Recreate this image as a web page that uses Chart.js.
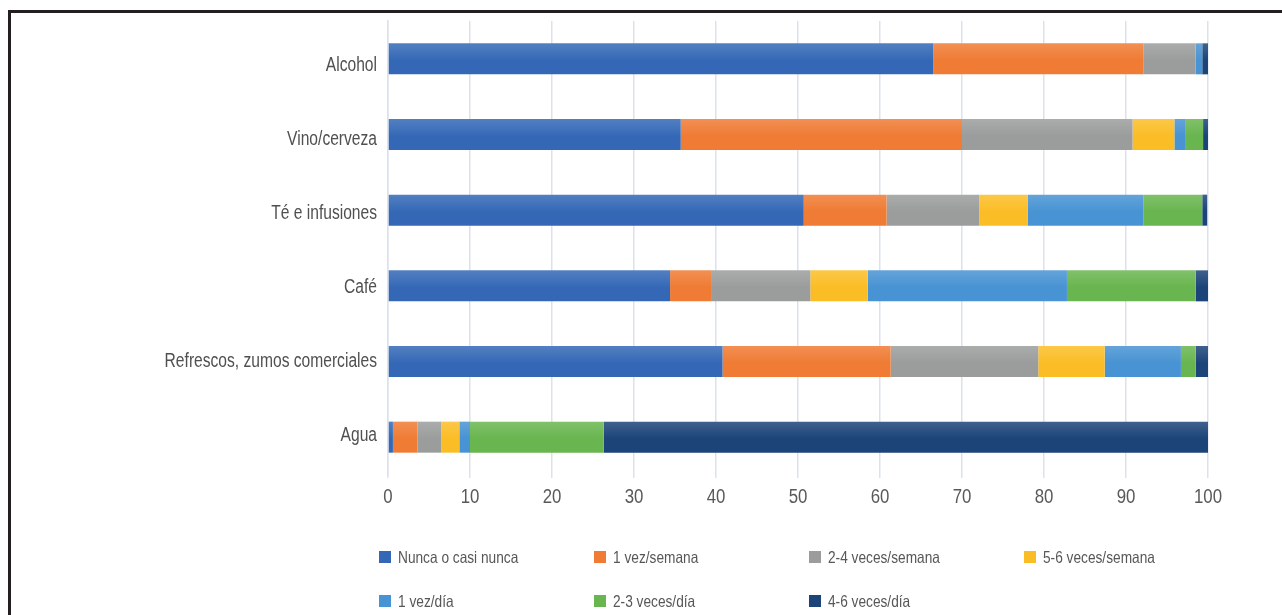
<!DOCTYPE html>
<html lang="es">
<head>
<meta charset="utf-8">
<title>Frecuencia de consumo de bebidas</title>
<script src="https://cdn.jsdelivr.net/npm/chart.js@4.4.1/dist/chart.umd.min.js"></script>
<style>
    html, body {
        margin: 0;
        padding: 0;
        background: #ffffff;
        width: 1282px;
        height: 615px;
        overflow: hidden;
        position: relative;
    }
    /* marco negro (solo arriba e izquierda, como en la figura) */
    .frame {
        position: absolute;
        left: 8px;
        top: 10px;
        width: 1300px;
        height: 640px;
        border-top: 3px solid #231f20;
        border-left: 3px solid #231f20;
        pointer-events: none;
    }
    #chart {
        position: absolute;
        left: 0;
        top: 0;
    }
    .legend-item {
        position: absolute;
        height: 18px;
        display: flex;
        align-items: center;
    }
    .legend-box {
        width: 12px;
        height: 12px;
        margin-right: 7px;
        flex: none;
    }
    .legend-text {
        font-family: "Liberation Sans", sans-serif;
        font-size: 16.5px;
        color: #575757;
        white-space: nowrap;
        transform: scaleX(0.83);
        transform-origin: left center;
    }
</style>
</head>
<body>
<canvas id="chart" width="1282" height="615"></canvas>
<div id="legend"></div>
<div class="frame"></div>

<script>
/* ==========================================================================
   Datos (porcentaje de personas por frecuencia de consumo)
   ========================================================================== */

const categories = [
    'Alcohol',
    'Vino/cerveza',
    'Té e infusiones',
    'Café',
    'Refrescos, zumos comerciales',
    'Agua'
];

const seriesNames = [
    'Nunca o casi nunca',
    '1 vez/semana',
    '2-4 veces/semana',
    '5-6 veces/semana',
    '1 vez/día',
    '2-3 veces/día',
    '4-6 veces/día'
];

const nuncaValues    = [66.5, 35.7, 50.7, 34.4, 40.8, 0.6];
const semana1Values  = [25.6, 34.3, 10.1, 5.1, 20.5, 3.0];
const semana24Values = [6.4, 20.8, 11.3, 12.0, 18.0, 2.9];
const semana56Values = [0, 5.1, 5.9, 7.0, 8.1, 2.2];
const dia1Values     = [0.8, 1.3, 14.1, 24.3, 9.3, 1.3];
const dia23Values    = [0, 2.2, 7.2, 15.7, 1.8, 16.3];
const dia46Values    = [0.7, 0.6, 0.6, 1.5, 1.7, 73.8];

const xTickValues = [0, 10, 20, 30, 40, 50, 60, 70, 80, 90, 100];

const seriesColors = ['#3468b6', '#ef7b34', '#9b9d9d', '#fbbd26', '#4893d3', '#69b54f', '#1c4479'];

/* ==========================================================================
   Utilidades de color
   ========================================================================== */

/**
 * Mezcla un color hex con blanco
 */
function lighten(hex, amount) {
    const n = parseInt(hex.slice(1), 16);
    const r = (n >> 16) & 255, g = (n >> 8) & 255, b = n & 255;
    const mix = c => Math.round(c + (255 - c) * amount);
    return `rgb(${mix(r)}, ${mix(g)}, ${mix(b)})`;
}

/**
 * Degradado vertical suave para cada barra (más claro arriba)
 */
function barGradient(color) {
    return function(context) {
        const chart = context.chart;
        if (!chart.chartArea || context.type !== 'data') return color;
        const y = chart.scales.y.getPixelForValue(context.dataIndex);
        const g = chart.ctx.createLinearGradient(0, y - 16, 0, y + 16);
        g.addColorStop(0, lighten(color, 0.16));
        g.addColorStop(0.55, color);
        g.addColorStop(1, color);
        return g;
    };
}

/* ==========================================================================
   Plugin: etiquetas de los ejes en letra estrecha (escala horizontal)
   ========================================================================== */

const condensedLabels = {
    id: 'condensedLabels',
    afterDraw(chart) {
        const xs = chart.scales.x;
        const ys = chart.scales.y;
        const ctx = chart.ctx;
        ctx.save();

        // eje X: números estrechos
        ctx.fillStyle = '#595959';
        ctx.font = '20.5px "Liberation Sans", sans-serif';
        ctx.textAlign = 'center';
        ctx.textBaseline = 'middle';
        xTickValues.forEach(v => {
            ctx.save();
            ctx.translate(xs.getPixelForValue(v), xs.top + 22);
            ctx.scale(0.82, 1);
            ctx.fillText(String(v), 0, 0);
            ctx.restore();
        });

        // eje Y: categorías alineadas a la derecha
        ctx.fillStyle = '#505050';
        ctx.font = '20px "Liberation Sans", sans-serif';
        ctx.textAlign = 'right';
        categories.forEach((name, i) => {
            ctx.save();
            // en la figura las etiquetas van algo más juntas que las barras
            ctx.translate(ys.right - 11, ys.getPixelForValue(i) + 7 - 1.8 * i);
            ctx.scale(0.78, 1);
            ctx.fillText(name, 0, 0);
            ctx.restore();
        });

        ctx.restore();
    }
};

/* ==========================================================================
   Gráfico
   ========================================================================== */

function buildDatasets() {
    const values = [nuncaValues, semana1Values, semana24Values, semana56Values, dia1Values, dia23Values, dia46Values];
    return values.map((data, i) => ({
        label: seriesNames[i],
        data: data,
        backgroundColor: barGradient(seriesColors[i]),
        borderWidth: 0,
        categoryPercentage: 0.82,
        barPercentage: 0.5
    }));
}

function createChart() {
    const ctx = document.getElementById('chart');
    return new Chart(ctx.getContext('2d'), {
        type: 'bar',
        data: {
            labels: categories,
            datasets: buildDatasets()
        },
        options: {
            indexAxis: 'y',
            responsive: false,
            animation: false,
            layout: {
                padding: { left: 0, top: 21, right: 74, bottom: 100 }
            },
            plugins: {
                legend: { display: false },
                tooltip: { enabled: false }
            },
            scales: {
                x: {
                    stacked: true,
                    min: 0,
                    max: 100,
                    afterBuildTicks: scale => {
                        scale.ticks = xTickValues.map(v => ({ value: v }));
                    },
                    afterFit: scale => { scale.height = 40; },
                    grid: {
                        color: '#dbe2eb',
                        lineWidth: 1.5,
                        drawTicks: true,
                        tickLength: 3
                    },
                    border: { display: false },
                    ticks: { display: false }
                },
                y: {
                    stacked: true,
                    afterFit: scale => { scale.width = 388; },
                    grid: { display: false, drawTicks: false },
                    border: { display: true, color: '#dbe2eb', width: 1.5 },
                    ticks: { display: false }
                }
            }
        },
        plugins: [condensedLabels]
    });
}

/* ==========================================================================
   Leyenda (dos filas, columnas fijas)
   ========================================================================== */

function buildLegend() {
    const legend = document.getElementById('legend');
    const colX = [379, 594, 809, 1024];
    const rowY = [557, 601];
    seriesNames.forEach((name, i) => {
        const item = document.createElement('div');
        item.className = 'legend-item';
        item.style.left = colX[i % 4] + 'px';
        item.style.top = (rowY[Math.floor(i / 4)] - 9) + 'px';

        const box = document.createElement('span');
        box.className = 'legend-box';
        box.style.background = seriesColors[i];

        const text = document.createElement('span');
        text.className = 'legend-text';
        text.textContent = name;

        item.appendChild(box);
        item.appendChild(text);
        legend.appendChild(item);
    });
}

buildLegend();
createChart();
</script>
</body>
</html>
